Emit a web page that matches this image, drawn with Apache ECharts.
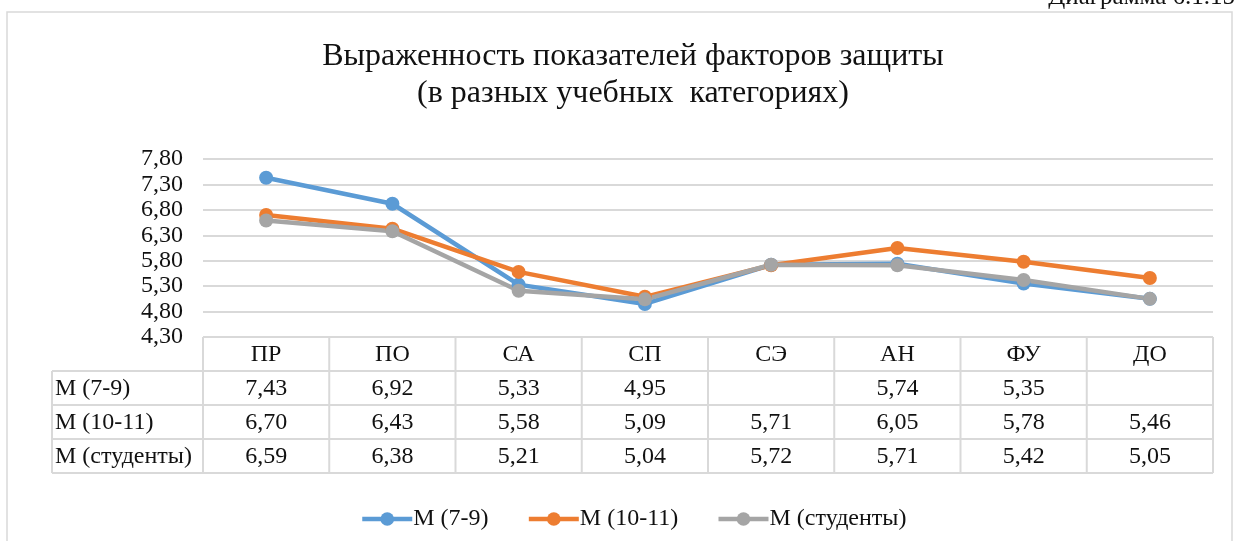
<!DOCTYPE html>
<html>
<head>
<meta charset="utf-8">
<script src="https://cdn.jsdelivr.net/npm/echarts@6/dist/echarts.min.js"></script>
<style>
  html, body { margin: 0; padding: 0; background: #fff; }
  #main { width: 1239px; height: 541px; }
</style>
</head>
<body>
<div id="main"></div>
<script>
// данные диаграммы
const categories = ['ПР', 'ПО', 'СА', 'СП', 'СЭ', 'АН', 'ФУ', 'ДО'];
const m79 = [7.43, 6.92, 5.33, 4.95, 5.72, 5.74, 5.35, 5.05];
const m1011 = [6.70, 6.43, 5.58, 5.09, 5.71, 6.05, 5.78, 5.46];
const mStud = [6.59, 6.38, 5.21, 5.04, 5.72, 5.71, 5.42, 5.05];
const m79Blank = [4, 7]; // в таблице пустые ячейки
const yTicks = [4.3, 4.8, 5.3, 5.8, 6.3, 6.8, 7.3, 7.8];
const seriesNames = ['М (7-9)', 'М (10-11)', 'М (студенты)'];

const FONT = '"Liberation Serif", "Times New Roman", serif';
const colors = ['#5B9BD5', '#ED7D31', '#A5A5A5'];
const fmt = v => v.toFixed(2).replace('.', ',');

const chart = echarts.init(document.getElementById('main'));

function lineSeries(name, data, color) {
  return {
    name: name,
    type: 'line',
    data: data,
    symbol: 'circle',
    symbolSize: 14,
    color: color,
    lineStyle: { width: 4.5, color: color },
    itemStyle: { color: color },
    emphasis: { disabled: true }
  };
}

chart.setOption({
  animation: false,
  title: {
    text: 'Выраженность показателей факторов защиты\n(в разных учебных  категориях)',
    left: 628,
    top: 33,
    textAlign: 'center',
    textStyle: { fontFamily: FONT, fontSize: 32, fontWeight: 'normal', color: '#111', lineHeight: 37 }
  },
  legend: {
    top: 502,
    left: 355,
    itemWidth: 50,
    itemHeight: 17,
    itemGap: 38,
    lineStyle: { width: 4.5 },
    textStyle: { fontFamily: FONT, fontSize: 24, color: '#111', padding: [0, 0, 0, -4] },
    data: seriesNames
  },
  grid: { left: 203, right: 26, top: 159, bottom: 204 },
  xAxis: {
    type: 'category',
    data: categories,
    boundaryGap: true,
    axisLine: { show: false },
    axisTick: { show: false },
    axisLabel: { fontFamily: FONT, fontSize: 24, color: '#111', margin: 6 }
  },
  yAxis: {
    type: 'value',
    min: 4.3,
    max: 7.8,
    axisLine: { show: false },
    axisTick: { show: false, customValues: yTicks },
    axisLabel: {
      customValues: yTicks,
      fontFamily: FONT, fontSize: 24, color: '#111', margin: 20,
      formatter: v => fmt(v)
    },
    splitLine: { show: true, lineStyle: { color: '#D9D9D9', width: 2 } }
  },
  series: [
    lineSeries(seriesNames[0], m79, colors[0]),
    lineSeries(seriesNames[1], m1011, colors[1]),
    lineSeries(seriesNames[2], mStud, colors[2])
  ]
});

// таблица данных под графиком
const tableTop = 337;
const rowH = 34;
const tableLeft = 52;
const border = { stroke: '#D9D9D9', lineWidth: 2 };
const xs = categories.map(c => chart.convertToPixel({ xAxisIndex: 0 }, c));
const colW = xs[1] - xs[0];
const plotLeft = xs[0] - colW / 2;
const plotRight = xs[xs.length - 1] + colW / 2;
const rows = [
  m79.map((v, i) => m79Blank.indexOf(i) >= 0 ? '' : fmt(v)),
  m1011.map(fmt),
  mStud.map(fmt)
];
const bottom = tableTop + rowH * (rows.length + 1);

const g = [];
// рамка всей диаграммы
g.push({ type: 'rect', shape: { x: 7, y: 12, width: 1225, height: 540 }, style: { fill: 'none', stroke: '#D9D9D9', lineWidth: 1.5 }, silent: true });
g.push({ type: 'text', right: 4, top: -15, style: { text: 'Диаграмма 6.1.15', font: '25px ' + FONT, fill: '#111' } });

// горизонтальные линии
for (let r = 1; r <= rows.length + 1; r++) {
  const y = tableTop + rowH * r;
  g.push({ type: 'line', shape: { x1: tableLeft, y1: y, x2: plotRight, y2: y }, style: border, silent: true });
}
// вертикальные линии
for (let i = 0; i <= categories.length; i++) {
  const x = plotLeft + colW * i;
  g.push({ type: 'line', shape: { x1: x, y1: tableTop, x2: x, y2: bottom }, style: border, silent: true });
}
g.push({ type: 'line', shape: { x1: tableLeft, y1: tableTop + rowH, x2: tableLeft, y2: bottom }, style: border, silent: true });

rows.forEach((row, r) => {
  const cy = tableTop + rowH * (r + 1) + rowH / 2 + 1;
  g.push({ type: 'text', x: tableLeft + 3, y: cy, style: { text: seriesNames[r], font: '24px ' + FONT, fill: '#111', align: 'left', verticalAlign: 'middle' } });
  row.forEach((t, i) => {
    g.push({ type: 'text', x: xs[i], y: cy, style: { text: t, font: '24px ' + FONT, fill: '#111', align: 'center', verticalAlign: 'middle' } });
  });
});

chart.setOption({ graphic: g });
</script>
</body>
</html>
